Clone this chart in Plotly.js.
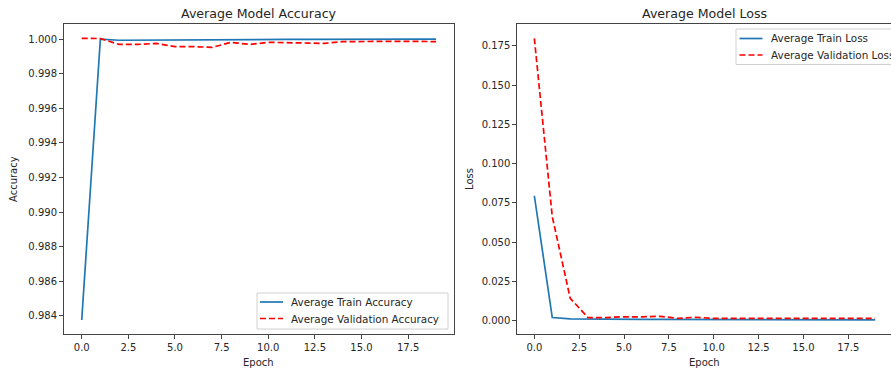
<!DOCTYPE html>
<html><head><meta charset="utf-8">
<script src="https://cdn.plot.ly/plotly-3.0.1.min.js"></script>
<style>html,body{margin:0;padding:0;background:#fff;overflow:hidden;width:891px;height:371px}#c{width:910px;height:371px}</style>
</head><body><div id="c"></div>
<script>
const epochs = [0,1,2,3,4,5,6,7,8,9,10,11,12,13,14,15,16,17,18,19];
const trainAcc = [0.98376,1.00000,0.99993,0.99994,0.99995,0.99995,0.99996,0.99997,0.99997,0.99997,0.99998,0.99998,0.99998,0.99998,0.99999,0.99999,0.99999,0.99999,1.00000,1.00000];
const valAcc = [1.00004,1.00003,0.99969,0.99969,0.99975,0.99956,0.99956,0.99952,0.99981,0.99969,0.99981,0.99979,0.99977,0.99975,0.99985,0.99987,0.99987,0.99987,0.99987,0.99985];
const trainLoss = [0.0796,0.0020,0.0012,0.0010,0.0009,0.0009,0.0008,0.0008,0.0008,0.0007,0.0007,0.0007,0.0006,0.0006,0.0006,0.0006,0.0005,0.0005,0.0005,0.0005];
const valLoss = [0.1799,0.0663,0.0143,0.0019,0.0020,0.0025,0.0025,0.0028,0.0015,0.0022,0.0015,0.0015,0.0015,0.0015,0.0015,0.0015,0.0015,0.0015,0.0015,0.0015];
const accTicks = [0.984,0.986,0.988,0.990,0.992,0.994,0.996,0.998,1.000];
const lossTicks = [0,0.025,0.05,0.075,0.1,0.125,0.15,0.175];
const xTicks = [0,2.5,5,7.5,10,12.5,15,17.5];
const accNames = ['Average Train Accuracy','Average Validation Accuracy'];
const lossNames = ['Average Train Loss','Average Validation Loss'];

const W=910,H=371;
const px=x=>x/W, py=y=>1-y/H;
const blue='#1f77b4', red='#ff0000';
const font={family:'DejaVu Sans',size:10,color:'#262626'};
const lfont={family:'DejaVu Sans',size:10.4,color:'#262626'};
const tfont={family:'DejaVu Sans',size:12.6,color:'#262626'};
const styles=[{color:blue,width:1.7},{color:red,width:1.7,dash:'6px,3px'}];

const traces=[
 {x:epochs,y:trainAcc,name:accNames[0],mode:'lines',line:styles[0],xaxis:'x',yaxis:'y'},
 {x:epochs,y:valAcc,name:accNames[1],mode:'lines',line:styles[1],xaxis:'x',yaxis:'y'},
 {x:epochs,y:trainLoss,name:lossNames[0],mode:'lines',line:styles[0],xaxis:'x2',yaxis:'y2'},
 {x:epochs,y:valLoss,name:lossNames[1],mode:'lines',line:styles[1],xaxis:'x2',yaxis:'y2'}
];
const axCommon={showgrid:false,zeroline:false,showline:true,mirror:true,linecolor:'#444',linewidth:1,ticks:'outside',ticklen:4,tickwidth:1,tickcolor:'#444',tickfont:font};

// legend boxes (pixel geometry)
function legend(box,lineX0,lineX1,textX,rows,names){
  const shapes=[{type:'rect',xref:'paper',yref:'paper',x0:px(box[0]),x1:px(box[1]),y0:py(box[3]),y1:py(box[2]),line:{color:'#d0d0d0',width:1},fillcolor:'rgba(255,255,255,0.85)',layer:'above'}];
  const ann=[];
  names.forEach((n,i)=>{
    shapes.push({type:'line',xref:'paper',yref:'paper',x0:px(lineX0),x1:px(lineX1),y0:py(rows[i]),y1:py(rows[i]),line:styles[i],layer:'above'});
    ann.push({text:n,xref:'paper',yref:'paper',x:px(textX),y:py(rows[i]),xanchor:'left',yanchor:'middle',showarrow:false,font:lfont});
  });
  return {shapes,ann};
}
const L1=legend([257,448,293,329],260,283,289,[302,318.5],accNames);
const L2=legend([736,905,29,64.5],739.5,762.5,769,[38.5,55],lossNames);

const layout={
 width:W,height:H,margin:{l:0,r:0,t:0,b:0},paper_bgcolor:'#fff',plot_bgcolor:'#fff',
 font:font,showlegend:false,
 xaxis:Object.assign({},axCommon,{domain:[px(64),px(453.8)],range:[-0.95,19.95],tickvals:xTicks,ticktext:xTicks.map(v=>v.toFixed(1)),anchor:'y'}),
 yaxis:Object.assign({},axCommon,{domain:[py(334),py(24)],range:[0.98295,1.00087],tickvals:accTicks,ticktext:accTicks.map(v=>v.toFixed(3)),anchor:'x'}),
 xaxis2:Object.assign({},axCommon,{domain:[px(517.3),px(892.2)],range:[-0.95,19.95],tickvals:xTicks,ticktext:xTicks.map(v=>v.toFixed(1)),anchor:'y2'}),
 yaxis2:Object.assign({},axCommon,{domain:[py(334),py(24)],range:[-0.00847,0.18901],tickvals:lossTicks,ticktext:lossTicks.map(v=>v.toFixed(3)),anchor:'x2'}),
 shapes:[...L1.shapes,...L2.shapes],
 annotations:[
  {text:'Average Model Accuracy',xref:'paper',yref:'paper',x:px(258.9),y:py(14),xanchor:'center',yanchor:'middle',showarrow:false,font:tfont},
  {text:'Average Model Loss',xref:'paper',yref:'paper',x:px(704.7),y:py(14),xanchor:'center',yanchor:'middle',showarrow:false,font:tfont},
  {text:'Epoch',xref:'paper',yref:'paper',x:px(258.9),y:py(362),xanchor:'center',yanchor:'middle',showarrow:false,font:font},
  {text:'Epoch',xref:'paper',yref:'paper',x:px(704.7),y:py(362),xanchor:'center',yanchor:'middle',showarrow:false,font:font},
  {text:'Accuracy',xref:'paper',yref:'paper',x:px(13),y:py(179),xanchor:'center',yanchor:'middle',textangle:-90,showarrow:false,font:font},
  {text:'Loss',xref:'paper',yref:'paper',x:px(469),y:py(179),xanchor:'center',yanchor:'middle',textangle:-90,showarrow:false,font:font},
  ...L1.ann,...L2.ann
 ]
};
Plotly.newPlot('c',traces,layout,{displayModeBar:false,staticPlot:true});
</script></body></html>
